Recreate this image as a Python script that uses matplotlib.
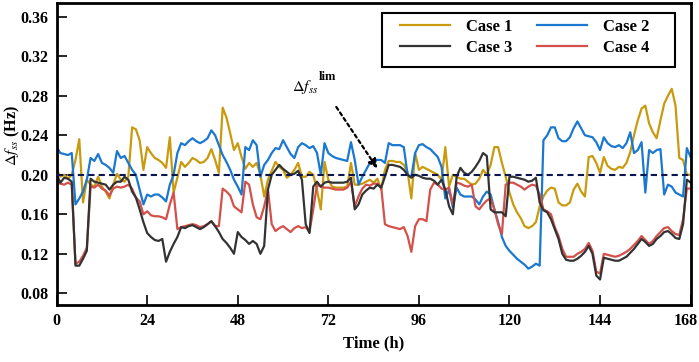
import numpy as np
import matplotlib
matplotlib.use('Agg')
import matplotlib.pyplot as plt
from matplotlib.patches import Rectangle
from matplotlib.transforms import ScaledTranslation

# DATA
hours = np.arange(0, 169)

case1 = [
    0.205, 0.198, 0.200, 0.196, 0.200, 0.215, 0.236, 0.172, 0.195, 0.190, 0.188, 0.198, 0.188, 0.183, 0.176, 0.190,
    0.201, 0.195, 0.193, 0.198, 0.248, 0.246, 0.235, 0.205, 0.228, 0.222, 0.217, 0.215, 0.212, 0.207, 0.238, 0.182, 0.197,
    0.213, 0.208, 0.212, 0.217, 0.215, 0.212, 0.213, 0.217, 0.226, 0.215, 0.202, 0.268, 0.258, 0.242, 0.225, 0.232,
    0.218, 0.206, 0.212, 0.208, 0.212, 0.200, 0.178, 0.195, 0.204, 0.213, 0.208, 0.205, 0.197, 0.200, 0.205, 0.212,
    0.198, 0.198, 0.203, 0.200, 0.185, 0.165, 0.213, 0.195, 0.188, 0.187, 0.187, 0.187, 0.188, 0.212, 0.190, 0.190,
    0.191, 0.193, 0.195, 0.192, 0.196, 0.185, 0.205, 0.214, 0.214, 0.213, 0.213, 0.210, 0.203, 0.176, 0.222, 0.205,
    0.208, 0.206, 0.204, 0.202, 0.200, 0.195, 0.228, 0.188, 0.200, 0.198, 0.196, 0.196, 0.193, 0.190, 0.191, 0.196,
    0.205, 0.200, 0.210, 0.228, 0.228, 0.212, 0.198, 0.182, 0.170, 0.162, 0.156, 0.148, 0.146, 0.148, 0.152,
    0.168, 0.178, 0.184, 0.187, 0.186, 0.172, 0.169, 0.169, 0.172, 0.185, 0.191, 0.183, 0.178, 0.218, 0.219, 0.212,
    0.202, 0.218, 0.209, 0.206, 0.205, 0.208, 0.207, 0.212, 0.223, 0.240, 0.255, 0.267, 0.270, 0.252, 0.243, 0.237,
    0.255, 0.272, 0.280, 0.287, 0.270, 0.217, 0.215, 0.200, 0.200,
]

case2 = [
    0.228, 0.222, 0.221, 0.220, 0.222, 0.170, 0.176, 0.183, 0.195, 0.217, 0.214, 0.221, 0.212, 0.210, 0.207, 0.202,
    0.224, 0.217, 0.219, 0.212, 0.205, 0.200, 0.185, 0.170, 0.180, 0.178, 0.180, 0.180, 0.177, 0.173, 0.190, 0.200, 0.222,
    0.232, 0.230, 0.234, 0.237, 0.234, 0.232, 0.234, 0.237, 0.245, 0.240, 0.230, 0.220, 0.213, 0.205, 0.195, 0.188,
    0.180, 0.228, 0.225, 0.235, 0.230, 0.198, 0.210, 0.215, 0.222, 0.227, 0.226, 0.235, 0.228, 0.221, 0.217, 0.228,
    0.232, 0.230, 0.227, 0.229, 0.222, 0.200, 0.232, 0.222, 0.219, 0.217, 0.216, 0.215, 0.214, 0.233, 0.215, 0.190,
    0.198, 0.205, 0.212, 0.215, 0.215, 0.215, 0.212, 0.232, 0.230, 0.230, 0.230, 0.228, 0.200, 0.198, 0.222, 0.230,
    0.231, 0.228, 0.226, 0.222, 0.218, 0.208, 0.176, 0.185, 0.167, 0.187, 0.180, 0.178, 0.178, 0.178, 0.175, 0.170,
    0.178, 0.183, 0.180, 0.165, 0.152, 0.137, 0.128, 0.123, 0.119, 0.115, 0.112, 0.109, 0.105, 0.107, 0.110,
    0.108, 0.235, 0.240, 0.248, 0.248, 0.237, 0.234, 0.234, 0.238, 0.247, 0.254, 0.247, 0.240, 0.239, 0.238, 0.233,
    0.225, 0.238, 0.232, 0.229, 0.228, 0.230, 0.227, 0.232, 0.243, 0.222, 0.225, 0.233, 0.182, 0.225, 0.222, 0.225,
    0.226, 0.180, 0.190, 0.188, 0.182, 0.180, 0.178, 0.227, 0.218,
]

case3 = [
    0.200, 0.192, 0.197, 0.196, 0.193, 0.108, 0.108, 0.115, 0.123, 0.196, 0.193, 0.192, 0.191, 0.190, 0.185, 0.190,
    0.193, 0.193, 0.198, 0.195, 0.183, 0.177, 0.165, 0.152, 0.141, 0.137, 0.134, 0.133, 0.135, 0.112, 0.122, 0.130, 0.137,
    0.147, 0.146, 0.148, 0.149, 0.147, 0.145, 0.147, 0.150, 0.153, 0.148, 0.142, 0.135, 0.131, 0.126, 0.120, 0.142,
    0.137, 0.134, 0.130, 0.133, 0.130, 0.120, 0.128, 0.185, 0.200, 0.205, 0.210, 0.206, 0.203, 0.200, 0.201, 0.204,
    0.195, 0.150, 0.141, 0.188, 0.193, 0.188, 0.192, 0.193, 0.192, 0.192, 0.192, 0.192, 0.193, 0.197, 0.165, 0.170,
    0.180, 0.184, 0.187, 0.186, 0.190, 0.187, 0.198, 0.210, 0.210, 0.209, 0.208, 0.205, 0.200, 0.197, 0.200, 0.199,
    0.197, 0.196, 0.196, 0.194, 0.190, 0.195, 0.185, 0.168, 0.160, 0.198, 0.207, 0.202, 0.200, 0.203, 0.208, 0.214,
    0.222, 0.219, 0.165, 0.162, 0.162, 0.162, 0.158, 0.198, 0.198, 0.197, 0.196, 0.195, 0.193, 0.194, 0.197,
    0.172, 0.164, 0.162, 0.155, 0.145, 0.135, 0.120, 0.114, 0.113, 0.113, 0.115, 0.118, 0.122, 0.128, 0.120, 0.098,
    0.094, 0.116, 0.115, 0.114, 0.113, 0.113, 0.115, 0.117, 0.121, 0.125, 0.130, 0.135, 0.132, 0.128, 0.130, 0.135,
    0.138, 0.142, 0.143, 0.140, 0.136, 0.135, 0.150, 0.195, 0.192,
]

case4 = [
    0.192, 0.191, 0.190, 0.192, 0.190, 0.110, 0.112, 0.118, 0.126, 0.188, 0.187, 0.190, 0.186, 0.184, 0.179, 0.186,
    0.188, 0.187, 0.188, 0.190, 0.186, 0.177, 0.173, 0.160, 0.163, 0.159, 0.158, 0.158, 0.157, 0.155, 0.170, 0.182, 0.145,
    0.147, 0.148, 0.149, 0.150, 0.149, 0.147, 0.148, 0.150, 0.153, 0.148, 0.148, 0.186, 0.183, 0.179, 0.168, 0.165,
    0.162, 0.193, 0.190, 0.170, 0.157, 0.155, 0.168, 0.185, 0.150, 0.143, 0.146, 0.148, 0.145, 0.142, 0.146, 0.148,
    0.146, 0.147, 0.142, 0.165, 0.190, 0.188, 0.187, 0.187, 0.186, 0.185, 0.185, 0.185, 0.187, 0.193, 0.168, 0.178,
    0.186, 0.190, 0.189, 0.191, 0.191, 0.188, 0.150, 0.148, 0.147, 0.146, 0.145, 0.147, 0.138, 0.122, 0.148, 0.155,
    0.155, 0.153, 0.185, 0.192, 0.190, 0.186, 0.185, 0.187, 0.170, 0.192, 0.191, 0.189, 0.188, 0.190, 0.168, 0.165,
    0.170, 0.174, 0.176, 0.165, 0.150, 0.140, 0.190, 0.192, 0.192, 0.190, 0.188, 0.185, 0.188, 0.190, 0.189,
    0.180, 0.165, 0.163, 0.160, 0.147, 0.138, 0.125, 0.117, 0.117, 0.117, 0.120, 0.122, 0.125, 0.131, 0.123, 0.102,
    0.100, 0.120, 0.119, 0.118, 0.117, 0.118, 0.120, 0.122, 0.125, 0.129, 0.133, 0.138, 0.134, 0.130, 0.133, 0.138,
    0.142, 0.146, 0.147, 0.143, 0.140, 0.139, 0.155, 0.186, 0.186,
]

f_lim = 0.20
x_ticks = [0, 24, 48, 72, 96, 120, 144, 168]
y_ticks = [0.08, 0.12, 0.16, 0.20, 0.24, 0.28, 0.32, 0.36]

# STYLE
plt.rcParams['font.family'] = ['Liberation Serif', 'DejaVu Serif']
plt.rcParams['mathtext.fontset'] = 'stix'
colors = {'c1': '#C99A0E', 'c2': '#1A78D0', 'c3': '#333333', 'c4': '#D4504A'}
lw = 1.6

fig = plt.figure(figsize=(6.99, 3.62), dpi=100)
ax = fig.add_axes([0.081, 0.157, 0.907, 0.835])

l1, = ax.plot(hours, case1, color=colors['c1'], lw=lw, label='Case 1')
l2, = ax.plot(hours, case2, color=colors['c2'], lw=lw, label='Case 2')
l4, = ax.plot(hours, case4, color=colors['c4'], lw=lw, label='Case 4')
l3, = ax.plot(hours, case3, color=colors['c3'], lw=lw, label='Case 3')
ax.axhline(f_lim, color='#0B1650', lw=1.5, ls=(0, (3, 2)), zorder=5)

# annotation with dotted arrow
ax.annotate('', xy=(85.4, 0.204), xytext=(73.7, 0.271),
            arrowprops=dict(arrowstyle='-|>', linestyle=(0, (1.5, 1.5)), lw=1.6,
                            color='black', mutation_scale=13))
ax.text(62.3, 0.289, r'$\Delta f_{ss}$', fontsize=11.5, ha='left', va='center')
ax.text(69.5, 0.2985, 'lim', fontsize=9, fontweight='bold', ha='left', va='center')

ax.set_xlim(0, 168)
ax.set_ylim(0.068, 0.374)
ax.set_xticks(x_ticks)
ax.set_yticks(y_ticks)
ax.set_yticklabels(['%.2f' % v for v in y_ticks])
ax.tick_params(direction='in', length=7, width=1.2, labelsize=11.5, pad=6)
for lab in ax.get_xticklabels() + ax.get_yticklabels():
    lab.set_fontweight('bold')
# last x label sits a little inside the figure edge
last = ax.get_xticklabels()[-1]
last.set_transform(last.get_transform() + ScaledTranslation(-0.05, 0, fig.dpi_scale_trans))
for sp in ax.spines.values():
    sp.set_linewidth(2.0)

ax.set_xlabel('Time (h)', fontsize=12, fontweight='bold', labelpad=4)
ax.set_ylabel(r'$\Delta f_{ss}$ (Hz)', fontsize=11.5, fontweight='bold')
ax.yaxis.set_label_coords(-0.054, 0.56)

# legend (frame drawn separately to get the padding of the original)
leg = ax.legend([l1, l3, l2, l4], ['Case 1', 'Case 3', 'Case 2', 'Case 4'], ncol=2,
                loc='upper left', bbox_to_anchor=(0.5416, 0.948), frameon=False,
                handlelength=3.0, handletextpad=0.95, columnspacing=1.5,
                prop={'weight': 'bold', 'size': 12}, borderpad=0, borderaxespad=0,
                labelspacing=0.33)
ax.add_patch(Rectangle((0.514, 0.789), 0.461, 0.178, transform=ax.transAxes,
                       fill=False, ec='black', lw=1.5, zorder=6))

fig.savefig('out.png', dpi=100)
